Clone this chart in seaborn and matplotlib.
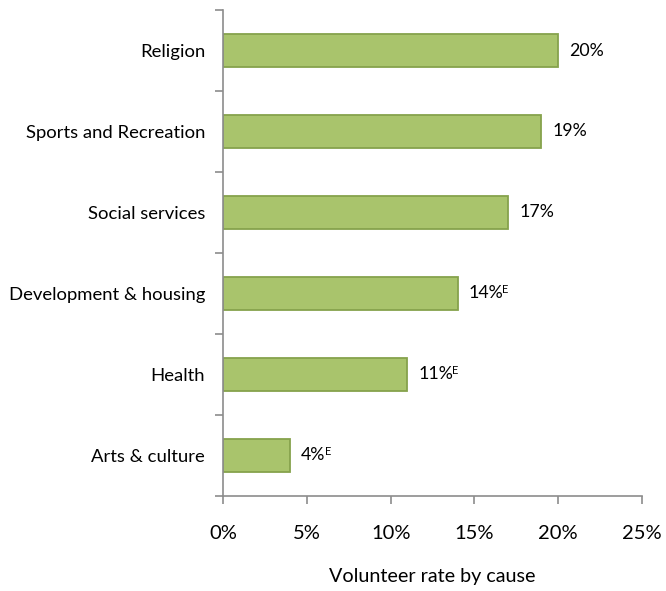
import matplotlib
matplotlib.use("Agg")
import matplotlib.pyplot as plt
import seaborn as sns
import pandas as pd
from matplotlib.ticker import FixedLocator, PercentFormatter

causes = ["Religion", "Sports and Recreation", "Social services",
          "Development & housing", "Health", "Arts & culture"]
rates = [20, 19, 17, 14, 11, 4]
flags = ["", "", "", "E", "E", "E"]
x_ticks = [0, 5, 10, 15, 20, 25]

sns.set_theme(style="white")
plt.rcParams["font.family"] = ["Lato", "DejaVu Sans"]

df = pd.DataFrame({"cause": causes, "rate": rates})

fig = plt.figure(figsize=(6.66, 5.91), dpi=100)
ax = fig.add_axes([0.335, 0.161, 0.629, 0.822])

sns.barplot(data=df, x="rate", y="cause", orient="h", ax=ax,
            color="#A9C46C", edgecolor="#86A24C", linewidth=1.3,
            width=0.41, saturation=1)

ax.set_xlim(0, 25)
ax.set_ylim(len(causes) - 0.5, -0.5)

axis_grey = "#8C8C8C"
for side in ["top", "right"]:
    ax.spines[side].set_visible(False)
for side in ["left", "bottom"]:
    ax.spines[side].set_color(axis_grey)
    ax.spines[side].set_linewidth(1.2)

ax.xaxis.set_major_locator(FixedLocator(x_ticks))
ax.xaxis.set_major_formatter(PercentFormatter(decimals=0))
ax.tick_params(axis="x", which="major", direction="out", length=6, width=1.2,
               color=axis_grey, labelsize=14.5, pad=15, labelcolor="#000000",
               bottom=True)

# category separators as ticks on the left spine
ax.yaxis.set_major_locator(FixedLocator(range(len(causes))))
ax.yaxis.set_minor_locator(FixedLocator([i - 0.5 for i in range(len(causes) + 1)]))
ax.tick_params(axis="y", which="major", length=0, labelsize=13.3,
               labelcolor="#000000", pad=13, left=True)
ax.tick_params(axis="y", which="minor", direction="out", length=6, width=1.2,
               color=axis_grey, left=True)

ax.set_ylabel("")
ax.set_xlabel("Volunteer rate by cause", fontsize=14.2, labelpad=19, color="#000000")

for i, (v, f) in enumerate(zip(rates, flags)):
    t = ax.annotate(f"{v}%", xy=(v, i), xytext=(8, 0), textcoords="offset points",
                    va="center", ha="left", fontsize=12.8, color="#000000")
    if f:
        ax.annotate(f, xy=(1, 1), xycoords=t, xytext=(-0.8, 1),
                    textcoords="offset points", va="top", ha="left",
                    fontsize=8, color="#000000")

fig.savefig("out.png", dpi=100, facecolor="white")
